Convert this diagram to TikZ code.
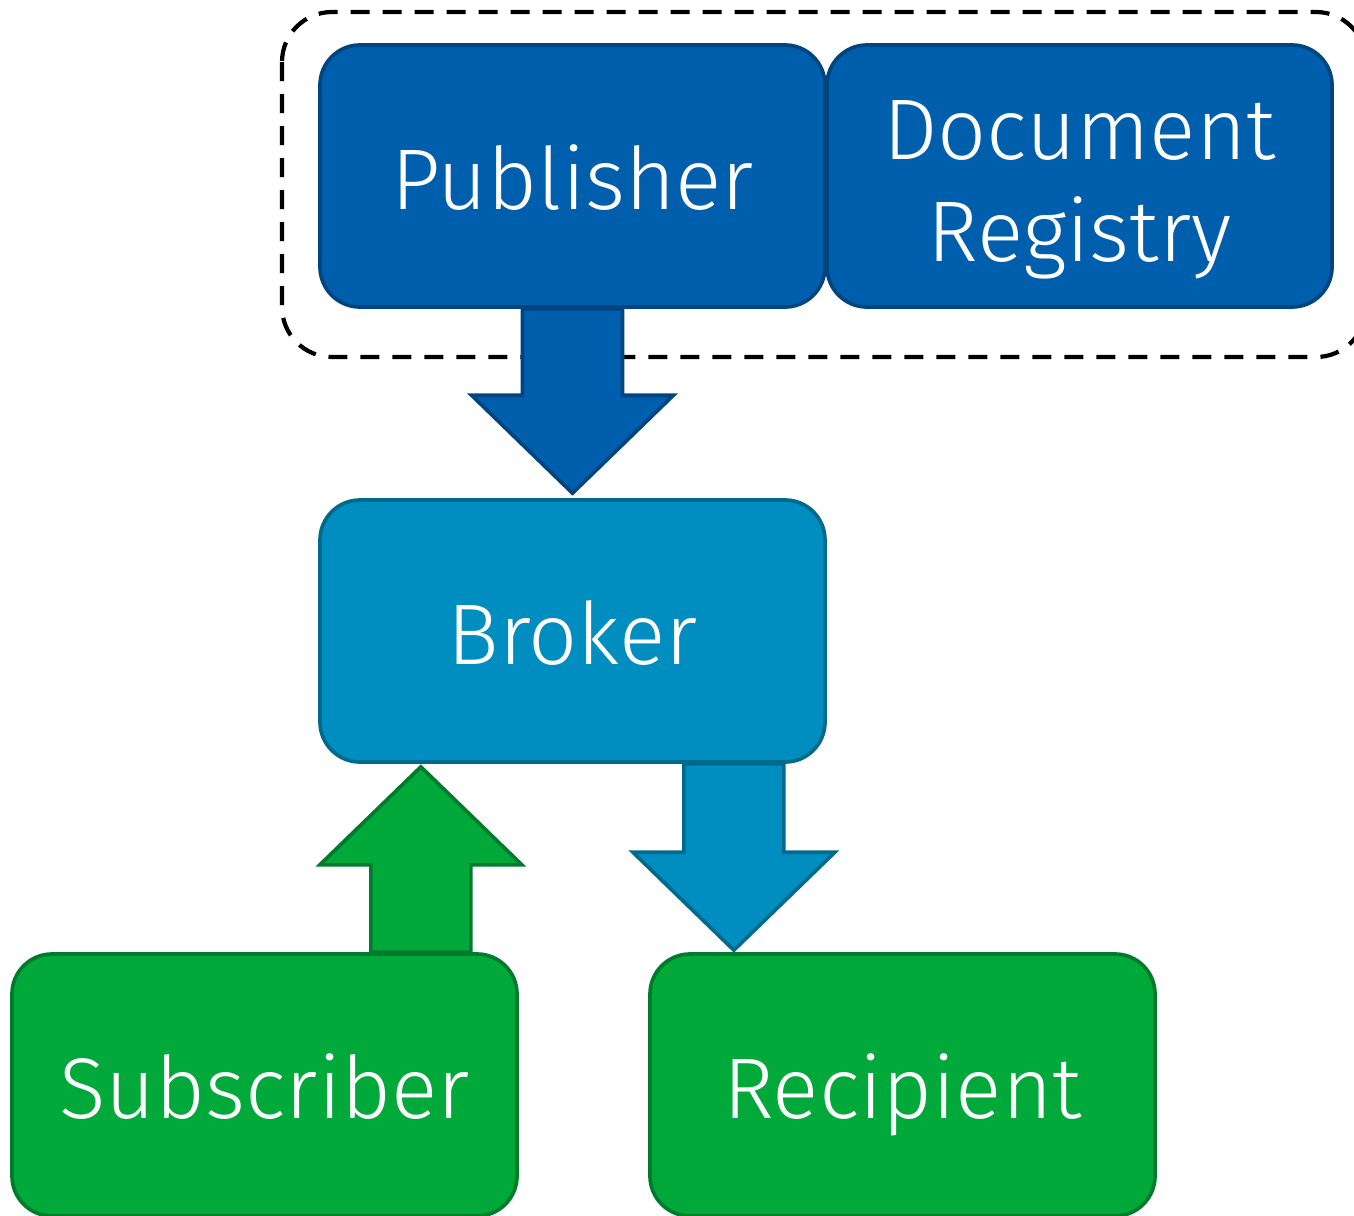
\documentclass[tikz,border=0pt]{standalone}
\usepackage{fontspec}
\setmainfont{Fira Sans}[UprightFont=* Light]
\usepackage{xcolor}
\usepackage{tikz}
\usetikzlibrary{calc}
\definecolor{pubfill}{HTML}{005FAD}
\definecolor{publine}{HTML}{00457F}
\definecolor{brokfill}{HTML}{008EC0}
\definecolor{brokline}{HTML}{006A8E}
\definecolor{subfill}{HTML}{00A93A}
\definecolor{subline}{HTML}{007A2B}
\tikzset{
  box/.style={rounded corners=0.8cm, minimum width=10.1cm, minimum height=5.24cm,
    inner sep=0pt, line width=2.1pt, text=white, align=center,
    text height=38.6pt, text depth=0pt,
    font=\fontsize{49}{58}\selectfont},
  twoline/.style={text height=97.5pt, text depth=0pt},
  pubbox/.style={box, fill=pubfill, draw=publine},
  brokbox/.style={box, fill=brokfill, draw=brokline},
  subbox/.style={box, fill=subfill, draw=subline},
  puberarrow/.style={fill=pubfill, draw=publine, line width=2.1pt},
  brokarrow/.style={fill=brokfill, draw=brokline, line width=2.1pt},
  subarrow/.style={fill=subfill, draw=subline, line width=2.1pt},
  groupline/.style={draw=black, line width=2.4pt, dash pattern=on 0.38cm off 0.26cm, rounded corners=1cm},
}
\newcommand{\blockarrow}[3]{%
  \draw[#1] let \p1=(#2), \p2=(#3), \n1={ifthenelse(\y2<\y1,1,-1)} in
    (\x1-1cm,\y1) -- (\x1-1cm,\y2+\n1*1.96cm) -- (\x1-2.02cm,\y2+\n1*1.96cm) -- (\x2,\y2)
    -- (\x1+2.02cm,\y2+\n1*1.96cm) -- (\x1+1cm,\y2+\n1*1.96cm) -- (\x1+1cm,\y1) -- cycle;}

\begin{document}
\begin{tikzpicture}
\useasboundingbox (0,0) rectangle (27.08,-24.3);
\draw[groupline] (5.64,-0.24) rectangle (27.32,-7.14);

\node[pubbox] (pub) at (11.45,-3.52) {Publisher};
\node[pubbox, twoline] (reg) at (21.59,-3.52) {Document\\Registry};
\node[brokbox] (broker) at (11.45,-12.62) {Broker};
\node[subbox] (sub) at (5.29,-21.7) {Subscriber};
\node[subbox] (rec) at (18.05,-21.7) {Recipient};

\coordinate (pubtip) at ($(broker.north)+(0,0.1)$);
\coordinate (substart) at ($(sub.north east)+(-1.96,0)$);
\coordinate (subtip) at (substart |- {$(broker.south)+(0,-0.06)$});
\coordinate (brokstart) at ($(broker.south east)+(-1.86,0)$);
\coordinate (broktip) at (brokstart |- {$(rec.north)+(0,0.04)$});

\blockarrow{puberarrow}{pub.south}{pubtip}
\blockarrow{subarrow}{substart}{subtip}
\blockarrow{brokarrow}{brokstart}{broktip}
\end{tikzpicture}
\end{document}
